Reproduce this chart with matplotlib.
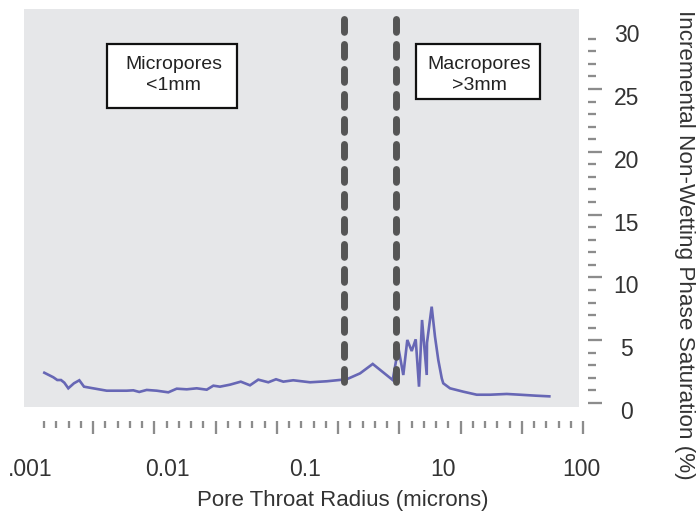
import numpy as np
import matplotlib
matplotlib.use("Agg")
import matplotlib.pyplot as plt
import matplotlib.transforms as mtransforms
from matplotlib.patches import Rectangle

plt.rcParams['font.family'] = ['Liberation Sans', 'DejaVu Sans']

# x axis labels sit at evenly spaced positions 0..4 (as drawn on the original)
x_labels = ['.001', '0.01', '0.1', '10', '100']
x_label_pos = [0, 1, 2, 3, 4]

# curve: position along the radius axis (label units) and saturation (%)
radius_pos = [0.104, 0.169, 0.198, 0.225, 0.249, 0.278, 0.319, 0.358, 0.392, 0.448,
              0.557, 0.702, 0.750, 0.793, 0.847, 0.920, 1.004, 1.065, 1.138, 1.210,
              1.283, 1.331, 1.379, 1.452, 1.530, 1.597, 1.657, 1.730, 1.786, 1.839,
              1.911, 2.033, 2.154, 2.299, 2.396, 2.488, 2.633, 2.674, 2.710, 2.739,
              2.771, 2.800, 2.824, 2.846, 2.880, 2.882, 2.916, 2.940, 2.964, 2.989,
              3.000, 3.049, 3.146, 3.243, 3.339, 3.461, 3.557, 3.678, 3.770]
saturation = [2.41, 2.05, 1.83, 1.83, 1.62, 1.17, 1.57, 1.81, 1.30, 1.19,
              0.98, 0.98, 1.01, 0.88, 1.04, 0.98, 0.85, 1.14, 1.09, 1.17,
              1.06, 1.38, 1.30, 1.46, 1.70, 1.41, 1.86, 1.65, 1.89, 1.70,
              1.81, 1.65, 1.73, 1.89, 2.36, 3.11, 1.83, 4.41, 2.23, 5.02,
              4.14, 5.07, 1.30, 6.61, 2.23, 4.80, 7.67, 5.28, 3.42, 1.97,
              1.57, 1.17, 0.90, 0.66, 0.66, 0.72, 0.66, 0.58, 0.53]

# boundaries between pore classes
boundaries = [2.280, 2.657]

W, H = 697, 512
fig = plt.figure(figsize=(W / 100, H / 100), dpi=100)
ax = fig.add_axes([24 / W, (H - 407) / H, 561 / W, 398 / H])
ax.set_facecolor('white')

gray = '#e6e7e9'
tick_col = '#8c8c8c'
txt_col = '#333333'

ax.add_patch(Rectangle((0, 0), (579 - 24) / 561, 1, transform=ax.transAxes,
                       facecolor=gray, edgecolor='none', zorder=0))

ax.plot(radius_pos, saturation, color='#6767b5', lw=1.9, zorder=3,
        solid_joinstyle='miter')

for b in boundaries:
    ax.plot([b, b], [30.6, 0.84], color='#555555', lw=5, zorder=4,
            dashes=(1.85, 1.75), dash_capstyle='round')

ax.set_xlim(-0.0436, 4.029)
ax.set_ylim(-0.318, 31.37)

for s in ax.spines.values():
    s.set_visible(False)
ax.spines['bottom'].set_position(('outward', 10))
ax.spines['right'].set_position(('outward', 2.2))

# decorative x ticks: long every fifth
tick_start, tick_step = 0.1016, 0.08893
all_ticks = tick_start + tick_step * np.arange(45)
long_ticks = all_ticks[4::5]
short_ticks = [t for i, t in enumerate(all_ticks) if i % 5 != 4]
ax.set_xticks(long_ticks)
ax.set_xticks(short_ticks, minor=True)
ax.tick_params(axis='x', which='both', direction='out', labelbottom=False,
               color=tick_col, width=1.65)
ax.tick_params(axis='x', which='major', length=9.3)
ax.tick_params(axis='x', which='minor', length=4.7)

# y axis on the right
ax.yaxis.tick_right()
ax.set_yticks(np.arange(0, 31, 5))
ax.set_yticks([v for v in range(1, 30) if v % 5 != 0], minor=True)
ax.tick_params(axis='y', which='both', direction='out', color=tick_col,
               width=1.65, labelsize=16.5, labelcolor=txt_col)
ax.tick_params(axis='y', which='major', length=10, pad=17.6)
ax.tick_params(axis='y', which='minor', length=5.8)
ax.yaxis.get_major_ticks()[-1].tick2line.set_visible(False)
offset = mtransforms.ScaledTranslation(0, -7 / 100, fig.dpi_scale_trans)
for lbl in ax.get_yticklabels():
    lbl.set_horizontalalignment('center')
    lbl.set_transform(lbl.get_transform() + offset)

# labelled positions on a secondary axis
sec = ax.secondary_xaxis('bottom')
sec.set_xticks(x_label_pos, x_labels)
sec.tick_params(length=0, pad=36.5, labelsize=16.5, labelcolor=txt_col)
for s in sec.spines.values():
    s.set_visible(False)

fig.text(343 / W, 1 - 490 / H, 'Pore Throat Radius (microns)', ha='center',
         va='top', fontsize=16, color=txt_col)
fig.text(684 / W, 1 - 245 / H, 'Incremental Non-Wetting Phase Saturation (%)',
         rotation=-90, ha='center', va='center', fontsize=16.2, color=txt_col)


def px_box(x0, x1, y0, y1):
    return ((x0 - 24) / 561, (407 - y1) / 398, (x1 - x0) / 561, (y1 - y0) / 398)


for (x0, x1, y0, y1), label in [((107, 237, 44, 108), 'Micropores\n<1mm'),
                                ((416, 540, 44, 99), 'Macropores\n>3mm')]:
    bx, by, bw, bh = px_box(x0, x1, y0, y1)
    ax.add_patch(Rectangle((bx, by), bw, bh, transform=ax.transAxes,
                           facecolor='white', edgecolor='#111111', lw=1.6, zorder=5))
    ax.text(bx + bw / 2 + 0.003, (407 - 75) / 398, label, transform=ax.transAxes,
            ha='center', va='center', fontsize=14, color='#222222',
            linespacing=1.3, zorder=6)

fig.savefig('out.png', dpi=100)
